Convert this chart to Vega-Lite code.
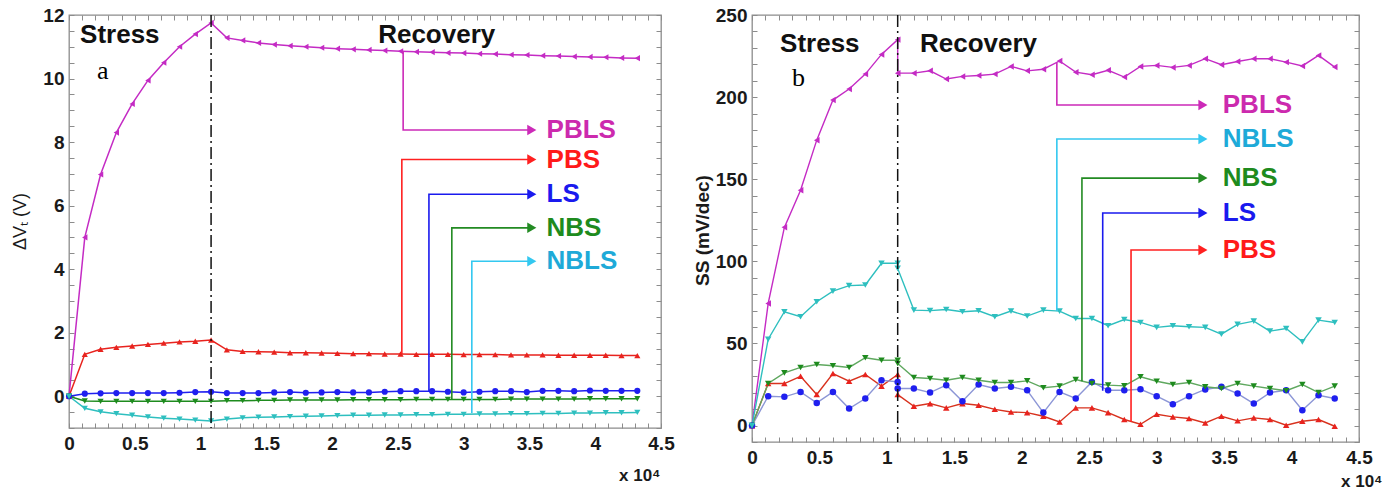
{
  "$schema": "https://vega.github.io/schema/vega-lite/v6.json",
  "autosize": {"type": "none"},
  "padding": {"left": 69, "top": 15, "right": 1319, "bottom": 477},
  "background": "white",
  "config": {
    "view": {"stroke": "#8c8c8c", "strokeWidth": 1.3},
    "axis": {"domain": false, "grid": false, "tickColor": "#8c8c8c", "tickSize": -5, "tickWidth": 1,
      "labelFont": "Liberation Sans", "labelFontSize": 19, "labelFontWeight": "bold", "labelColor": "#1a1a1a",
      "labelOverlap": false, "labelFlush": false, "titleFont": "Liberation Sans", "titleColor": "#1a1a1a"},
    "text": {"font": "Liberation Sans"}
  },
  "datasets": {
    "a": [
      {"i":0,"t":0,"PBLS":0,"PBS":0,"LS":0,"NBS":0,"NBLS":0},
      {"i":1,"t":1200,"PBLS":5.0,"PBS":1.32,"LS":0.08,"NBS":-0.15,"NBLS":-0.38},
      {"i":2,"t":2400,"PBLS":6.98,"PBS":1.48,"LS":0.09,"NBS":-0.16,"NBLS":-0.49},
      {"i":3,"t":3600,"PBLS":8.3,"PBS":1.54,"LS":0.1,"NBS":-0.16,"NBLS":-0.55},
      {"i":4,"t":4800,"PBLS":9.2,"PBS":1.58,"LS":0.1,"NBS":-0.16,"NBLS":-0.6},
      {"i":5,"t":6000,"PBLS":9.94,"PBS":1.63,"LS":0.1,"NBS":-0.16,"NBLS":-0.65},
      {"i":6,"t":7200,"PBLS":10.5,"PBS":1.67,"LS":0.1,"NBS":-0.16,"NBLS":-0.69},
      {"i":7,"t":8400,"PBLS":11.0,"PBS":1.71,"LS":0.11,"NBS":-0.16,"NBLS":-0.72},
      {"i":8,"t":9600,"PBLS":11.4,"PBS":1.73,"LS":0.13,"NBS":-0.16,"NBLS":-0.75},
      {"i":9,"t":10800,"PBLS":11.75,"PBS":1.77,"LS":0.14,"NBS":-0.16,"NBLS":-0.78},
      {"i":10,"t":12000,"PBLS":11.28,"PBS":1.46,"LS":0.1,"NBS":-0.14,"NBLS":-0.72},
      {"i":11,"t":13200,"PBLS":11.2,"PBS":1.41,"LS":0.1,"NBS":-0.14,"NBLS":-0.68},
      {"i":12,"t":14400,"PBLS":11.12,"PBS":1.4,"LS":0.1,"NBS":-0.13,"NBLS":-0.66},
      {"i":13,"t":15600,"PBLS":11.07,"PBS":1.39,"LS":0.12,"NBS":-0.13,"NBLS":-0.65},
      {"i":14,"t":16800,"PBLS":11.03,"PBS":1.37,"LS":0.13,"NBS":-0.12,"NBLS":-0.64},
      {"i":15,"t":18000,"PBLS":11.0,"PBS":1.37,"LS":0.11,"NBS":-0.12,"NBLS":-0.63},
      {"i":16,"t":19200,"PBLS":10.97,"PBS":1.36,"LS":0.12,"NBS":-0.12,"NBLS":-0.62},
      {"i":17,"t":20400,"PBLS":10.94,"PBS":1.35,"LS":0.13,"NBS":-0.12,"NBLS":-0.61},
      {"i":18,"t":21600,"PBLS":10.92,"PBS":1.34,"LS":0.12,"NBS":-0.11,"NBLS":-0.6},
      {"i":19,"t":22800,"PBLS":10.9,"PBS":1.34,"LS":0.12,"NBS":-0.11,"NBLS":-0.6},
      {"i":20,"t":24000,"PBLS":10.88,"PBS":1.33,"LS":0.14,"NBS":-0.11,"NBLS":-0.59},
      {"i":21,"t":25200,"PBLS":10.86,"PBS":1.33,"LS":0.16,"NBS":-0.11,"NBLS":-0.59},
      {"i":22,"t":26400,"PBLS":10.84,"PBS":1.32,"LS":0.16,"NBS":-0.1,"NBLS":-0.58},
      {"i":23,"t":27600,"PBLS":10.83,"PBS":1.32,"LS":0.16,"NBS":-0.1,"NBLS":-0.58},
      {"i":24,"t":28800,"PBLS":10.81,"PBS":1.32,"LS":0.14,"NBS":-0.1,"NBLS":-0.57},
      {"i":25,"t":30000,"PBLS":10.8,"PBS":1.31,"LS":0.12,"NBS":-0.1,"NBLS":-0.57},
      {"i":26,"t":31200,"PBLS":10.78,"PBS":1.31,"LS":0.14,"NBS":-0.1,"NBLS":-0.56},
      {"i":27,"t":32400,"PBLS":10.77,"PBS":1.31,"LS":0.16,"NBS":-0.1,"NBLS":-0.56},
      {"i":28,"t":33600,"PBLS":10.75,"PBS":1.3,"LS":0.16,"NBS":-0.09,"NBLS":-0.55},
      {"i":29,"t":34800,"PBLS":10.74,"PBS":1.3,"LS":0.13,"NBS":-0.09,"NBLS":-0.55},
      {"i":30,"t":36000,"PBLS":10.72,"PBS":1.3,"LS":0.17,"NBS":-0.09,"NBLS":-0.54},
      {"i":31,"t":37200,"PBLS":10.71,"PBS":1.29,"LS":0.17,"NBS":-0.09,"NBLS":-0.54},
      {"i":32,"t":38400,"PBLS":10.69,"PBS":1.29,"LS":0.16,"NBS":-0.09,"NBLS":-0.53},
      {"i":33,"t":39600,"PBLS":10.68,"PBS":1.29,"LS":0.18,"NBS":-0.08,"NBLS":-0.53},
      {"i":34,"t":40800,"PBLS":10.67,"PBS":1.29,"LS":0.17,"NBS":-0.08,"NBLS":-0.52},
      {"i":35,"t":42000,"PBLS":10.65,"PBS":1.28,"LS":0.17,"NBS":-0.08,"NBLS":-0.52},
      {"i":36,"t":43200,"PBLS":10.64,"PBS":1.28,"LS":0.17,"NBS":-0.08,"NBLS":-0.51}
    ],
    "b": [
      {"i":0,"t":0,"PBLS":0,"PBS":0,"LS":0,"NBS":0,"NBLS":0},
      {"i":1,"t":1200,"PBLS":74.4,"PBS":25.6,"LS":17.9,"NBS":25.6,"NBLS":52.6},
      {"i":2,"t":2400,"PBLS":120.7,"PBS":25.6,"LS":17.5,"NBS":32.1,"NBLS":69.3},
      {"i":3,"t":3600,"PBLS":143.3,"PBS":30,"LS":20.5,"NBS":35.4,"NBLS":66.3},
      {"i":4,"t":4800,"PBLS":173.8,"PBS":18.9,"LS":13.8,"NBS":37.2,"NBLS":75.4},
      {"i":5,"t":6000,"PBLS":198.2,"PBS":31.7,"LS":20.5,"NBS":36.4,"NBLS":81.9},
      {"i":6,"t":7200,"PBLS":204.9,"PBS":27,"LS":10.4,"NBS":35.4,"NBLS":85.2},
      {"i":7,"t":8400,"PBLS":214,"PBS":31.1,"LS":16.5,"NBS":41.3,"NBLS":85.6},
      {"i":8,"t":9600,"PBLS":226,"PBS":24,"LS":27.6,"NBS":39.8,"NBLS":98.8},
      {"i":9,"t":10800,"PBLS":235,"PBS":31.1,"LS":26.6,"NBS":39.8,"NBLS":98.8},
      {"i":10,"t":10800,"PBLS":214.6,"PBS":18.9,"LS":22.6,"NBS":37.8,"NBLS":95.7},
      {"i":11,"t":12000,"PBLS":214.6,"PBS":11.8,"LS":22.6,"NBS":29.3,"NBLS":70.3},
      {"i":12,"t":13200,"PBLS":216,"PBS":13.4,"LS":20.1,"NBS":28.7,"NBLS":70},
      {"i":13,"t":14400,"PBLS":211,"PBS":10.8,"LS":24.6,"NBS":27.6,"NBLS":70.7},
      {"i":14,"t":15600,"PBLS":212.6,"PBS":13.4,"LS":14.8,"NBS":29.3,"NBLS":69.3},
      {"i":15,"t":16800,"PBLS":213.2,"PBS":12.4,"LS":25,"NBS":27.6,"NBLS":69.9},
      {"i":16,"t":18000,"PBLS":214,"PBS":9.9,"LS":22.6,"NBS":26.2,"NBLS":66.3},
      {"i":17,"t":19200,"PBLS":218.7,"PBS":8.3,"LS":23.6,"NBS":26.2,"NBLS":69.7},
      {"i":18,"t":20400,"PBLS":216,"PBS":7.9,"LS":21.5,"NBS":27.2,"NBLS":66.7},
      {"i":19,"t":21600,"PBLS":217,"PBS":5.7,"LS":7.9,"NBS":23,"NBLS":70.3},
      {"i":20,"t":22800,"PBLS":222,"PBS":2.2,"LS":20.5,"NBS":24,"NBLS":69.7},
      {"i":21,"t":24000,"PBLS":215.2,"PBS":10.8,"LS":16.5,"NBS":28,"NBLS":65.2},
      {"i":22,"t":25200,"PBLS":213.6,"PBS":10.8,"LS":26.6,"NBS":25.6,"NBLS":65.2},
      {"i":23,"t":26400,"PBLS":216.3,"PBS":7.9,"LS":21.5,"NBS":24.6,"NBLS":60.8},
      {"i":24,"t":27600,"PBLS":212.2,"PBS":3.7,"LS":21.5,"NBS":24.2,"NBLS":64.6},
      {"i":25,"t":28800,"PBLS":218.7,"PBS":0.8,"LS":22.1,"NBS":29.7,"NBLS":62.8},
      {"i":26,"t":30000,"PBLS":219.3,"PBS":6.9,"LS":17.9,"NBS":27,"NBLS":59.8},
      {"i":27,"t":31200,"PBLS":218.1,"PBS":5.3,"LS":13,"NBS":25,"NBLS":60.8},
      {"i":28,"t":32400,"PBLS":219.3,"PBS":4.3,"LS":17.9,"NBS":26.2,"NBLS":60.2},
      {"i":29,"t":33600,"PBLS":223.4,"PBS":1.6,"LS":22,"NBS":23.6,"NBLS":59.8},
      {"i":30,"t":34800,"PBLS":219.7,"PBS":5.7,"LS":23.6,"NBS":22.6,"NBLS":55.7},
      {"i":31,"t":36000,"PBLS":221.7,"PBS":2.9,"LS":19.5,"NBS":25.6,"NBLS":61.6},
      {"i":32,"t":37200,"PBLS":223.4,"PBS":4.7,"LS":13.4,"NBS":24,"NBLS":63.6},
      {"i":33,"t":38400,"PBLS":223.4,"PBS":3.7,"LS":20.1,"NBS":22.6,"NBLS":57.5},
      {"i":34,"t":39600,"PBLS":221.3,"PBS":0.2,"LS":21.5,"NBS":21.2,"NBLS":59.1},
      {"i":35,"t":40800,"PBLS":219,"PBS":2.6,"LS":9.3,"NBS":25,"NBLS":51},
      {"i":36,"t":42000,"PBLS":225.4,"PBS":3.7,"LS":18.5,"NBS":20.1,"NBLS":64.2},
      {"i":37,"t":43200,"PBLS":218.3,"PBS":-0.4,"LS":16.5,"NBS":24,"NBLS":62.8}
    ],
    "ca": [
      {"s":"PBLS","k":0,"t":25400,"v":10.85},{"s":"PBLS","k":1,"t":25400,"v":8.38},{"s":"PBLS","k":2,"t":35000,"v":8.38},
      {"s":"PBS","k":0,"t":25300,"v":1.33},{"s":"PBS","k":1,"t":25300,"v":7.45},{"s":"PBS","k":2,"t":35000,"v":7.45},
      {"s":"LS","k":0,"t":27360,"v":0.15},{"s":"LS","k":1,"t":27360,"v":6.36},{"s":"LS","k":2,"t":35000,"v":6.36},
      {"s":"NBS","k":0,"t":29100,"v":-0.1},{"s":"NBS","k":1,"t":29100,"v":5.3},{"s":"NBS","k":2,"t":35000,"v":5.3},
      {"s":"NBLS","k":0,"t":30620,"v":-0.53},{"s":"NBLS","k":1,"t":30620,"v":4.25},{"s":"NBLS","k":2,"t":35000,"v":4.25}
    ],
    "la": [
      {"s":"PBLS","t":35180,"v":8.38,"lt":36300},
      {"s":"PBS","t":35180,"v":7.45,"lt":36300},
      {"s":"LS","t":35180,"v":6.36,"lt":36300},
      {"s":"NBS","t":35180,"v":5.3,"lt":36300},
      {"s":"NBLS","t":35180,"v":4.25,"lt":36300}
    ],
    "cb": [
      {"s":"PBLS","k":0,"t":22600,"v":221},{"s":"PBLS","k":1,"t":22600,"v":195.2},{"s":"PBLS","k":2,"t":33200,"v":195.2},
      {"s":"NBLS","k":0,"t":22600,"v":69.7},{"s":"NBLS","k":1,"t":22600,"v":174.5},{"s":"NBLS","k":2,"t":33200,"v":174.5},
      {"s":"NBS","k":0,"t":24460,"v":27},{"s":"NBS","k":1,"t":24460,"v":150.7},{"s":"NBS","k":2,"t":33200,"v":150.7},
      {"s":"LS","k":0,"t":26000,"v":21.2},{"s":"LS","k":1,"t":26000,"v":129.4},{"s":"LS","k":2,"t":33200,"v":129.4},
      {"s":"PBS","k":0,"t":28100,"v":2.2},{"s":"PBS","k":1,"t":28100,"v":106.9},{"s":"PBS","k":2,"t":33200,"v":106.9}
    ],
    "lb": [
      {"s":"PBLS","t":33430,"v":195.2,"lt":34900},
      {"s":"NBLS","t":33430,"v":174.5,"lt":34900},
      {"s":"NBS","t":33430,"v":150.7,"lt":34900},
      {"s":"LS","t":33430,"v":129.4,"lt":34900},
      {"s":"PBS","t":33430,"v":106.9,"lt":34900}
    ]
  },
  "bounds": "flush",
  "spacing": 91,
  "hconcat": [
    {
      "width": 592, "height": 413,
      "layer": [
        {
          "data": {"name": "a"},
          "transform": [{"fold": ["PBLS","PBS","LS","NBS","NBLS"], "as": ["s","v"]}],
          "mark": {"type": "line", "strokeWidth": 1.5},
          "encoding": {
            "x": {"field": "t", "type": "quantitative", "scale": {"domain": [0,45000], "nice": false},
              "axis": {"orient": "bottom", "values": [0,1000,2000,3000,4000,5000,6000,7000,8000,9000,10000,11000,12000,13000,14000,15000,16000,17000,18000,19000,20000,21000,22000,23000,24000,25000,26000,27000,28000,29000,30000,31000,32000,33000,34000,35000,36000,37000,38000,39000,40000,41000,42000,43000,44000,45000],
                "labelExpr": "datum.value % 5000 === 0 ? format(datum.value/10000, '~g') : ''",
                "labelPadding": 11, "title": "x 10⁴", "titleFontSize": 17, "titleFontWeight": "bold",
                "titleX": 591, "titleY": 47, "titleAlign": "right", "titleBaseline": "middle", "titleAngle": 0}},
            "y": {"field": "v", "type": "quantitative", "scale": {"domain": [-1,12], "nice": false},
              "axis": {"orient": "left", "values": [-1,-0.5,0,0.5,1,1.5,2,2.5,3,3.5,4,4.5,5,5.5,6,6.5,7,7.5,8,8.5,9,9.5,10,10.5,11,11.5,12],
                "labelExpr": "datum.value >= 0 && datum.value % 2 === 0 ? format(datum.value, 'd') : ''",
                "labelPadding": 10, "title": "ΔVₜ (V)", "titleFontSize": 18, "titleFontWeight": "normal",
                "titleX": -49, "titleY": 206, "titleAngle": -90, "titleAlign": "center", "titleBaseline": "middle"}},
            "color": {"field": "s", "type": "nominal", "legend": null,
              "scale": {"domain": ["PBLS","PBS","LS","NBS","NBLS"], "range": ["#C42BC4","#E8231E","#1F1FEF","#1E8B1E","#2EBFBF"]}},
            "order": {"field": "i", "type": "quantitative"}
          }
        },
        {
          "data": {"name": "a"},
          "transform": [{"fold": ["PBLS","PBS","LS","NBS","NBLS"], "as": ["s","v"]}],
          "mark": {"type": "point", "filled": true, "size": 38, "opacity": 1},
          "encoding": {
            "x": {"field": "t", "type": "quantitative", "axis": null},
            "y": {"field": "v", "type": "quantitative", "axis": null},
            "color": {"field": "s", "type": "nominal", "legend": null,
              "scale": {"domain": ["PBLS","PBS","LS","NBS","NBLS"], "range": ["#C42BC4","#E8231E","#1F1FEF","#1E8B1E","#2EBFBF"]}},
            "shape": {"field": "s", "type": "nominal", "legend": null,
              "scale": {"domain": ["PBLS","PBS","LS","NBS","NBLS"], "range": ["triangle-left","triangle-up","circle","triangle-down","triangle-down"]}}
          }
        },
        {
          "data": {"values": [{"t": 10800}]},
          "mark": {"type": "rule", "color": "#111", "strokeWidth": 1.5, "strokeDash": [12,4,2,4]},
          "encoding": {"x": {"field": "t", "type": "quantitative", "axis": null}}
        },
        {
          "data": {"name": "ca"},
          "mark": {"type": "line", "strokeWidth": 1.6},
          "encoding": {
            "x": {"field": "t", "type": "quantitative",
              "axis": {"orient": "top", "values": [0,1000,2000,3000,4000,5000,6000,7000,8000,9000,10000,11000,12000,13000,14000,15000,16000,17000,18000,19000,20000,21000,22000,23000,24000,25000,26000,27000,28000,29000,30000,31000,32000,33000,34000,35000,36000,37000,38000,39000,40000,41000,42000,43000,44000,45000], "labels": false, "title": null}},
            "y": {"field": "v", "type": "quantitative",
              "axis": {"orient": "right", "values": [-1,-0.5,0,0.5,1,1.5,2,2.5,3,3.5,4,4.5,5,5.5,6,6.5,7,7.5,8,8.5,9,9.5,10,10.5,11,11.5,12], "labels": false, "title": null}},
            "color": {"field": "s", "type": "nominal", "legend": null,
              "scale": {"domain": ["PBLS","PBS","LS","NBS","NBLS"], "range": ["#CC2AB8","#FF2020","#1A1AEE","#238B23","#33C8F0"]}},
            "order": {"field": "k", "type": "quantitative"}
          }
        },
        {
          "data": {"name": "la"},
          "mark": {"type": "point", "shape": "triangle-right", "filled": true, "size": 110, "opacity": 1},
          "encoding": {
            "x": {"field": "t", "type": "quantitative", "axis": null},
            "y": {"field": "v", "type": "quantitative", "axis": null},
            "color": {"field": "s", "type": "nominal", "legend": null,
              "scale": {"domain": ["PBLS","PBS","LS","NBS","NBLS"], "range": ["#CC2AB8","#FF2020","#1A1AEE","#238B23","#33C8F0"]}}
          }
        },
        {
          "data": {"name": "la"},
          "mark": {"type": "text", "align": "left", "baseline": "middle", "fontSize": 26, "fontWeight": "bold", "font": "Liberation Sans"},
          "encoding": {
            "x": {"field": "lt", "type": "quantitative", "axis": null},
            "y": {"field": "v", "type": "quantitative", "axis": null},
            "text": {"field": "s"},
            "color": {"field": "s", "type": "nominal", "legend": null,
              "scale": {"domain": ["PBLS","PBS","LS","NBS","NBLS"], "range": ["#CC2AAE","#FF1A1A","#1A1AEE","#1E8B1E","#1EAAD8"]}}
          }
        },
        {
          "data": {"values": [{"txt": "Stress", "t": 840, "v": 11.12}, {"txt": "Recovery", "t": 23500, "v": 11.12}]},
          "mark": {"type": "text", "align": "left", "baseline": "alphabetic", "fontSize": 26, "fontWeight": "bold", "font": "Liberation Sans", "color": "#111"},
          "encoding": {
            "x": {"field": "t", "type": "quantitative", "axis": null},
            "y": {"field": "v", "type": "quantitative", "axis": null},
            "text": {"field": "txt"}
          }
        },
        {
          "data": {"values": [{"txt": "a", "t": 2130, "v": 10.0}]},
          "mark": {"type": "text", "align": "left", "baseline": "alphabetic", "fontSize": 26, "font": "Liberation Serif", "color": "#000"},
          "encoding": {
            "x": {"field": "t", "type": "quantitative", "axis": null},
            "y": {"field": "v", "type": "quantitative", "axis": null},
            "text": {"field": "txt"}
          }
        }
      ],
      "resolve": {"scale": {"color": "independent"}, "axis": {"x": "independent", "y": "independent"}}
    },
    {
      "width": 607, "height": 427,
      "layer": [
        {
          "data": {"name": "b"},
          "transform": [{"fold": ["PBLS","PBS","LS","NBS","NBLS"], "as": ["s","v"]}],
          "mark": {"type": "line", "strokeWidth": 1.4},
          "encoding": {
            "x": {"field": "t", "type": "quantitative", "scale": {"domain": [0,45000], "nice": false},
              "axis": {"orient": "bottom", "values": [0,1000,2000,3000,4000,5000,6000,7000,8000,9000,10000,11000,12000,13000,14000,15000,16000,17000,18000,19000,20000,21000,22000,23000,24000,25000,26000,27000,28000,29000,30000,31000,32000,33000,34000,35000,36000,37000,38000,39000,40000,41000,42000,43000,44000,45000],
                "labelExpr": "datum.value % 5000 === 0 ? format(datum.value/10000, '~g') : ''",
                "labelPadding": 11, "title": "x 10⁴", "titleFontSize": 17, "titleFontWeight": "bold",
                "titleX": 630, "titleY": 39, "titleAlign": "right", "titleBaseline": "middle", "titleAngle": 0}},
            "y": {"field": "v", "type": "quantitative", "scale": {"domain": [-10,250], "nice": false},
              "axis": {"orient": "left", "values": [-10,0,10,20,30,40,50,60,70,80,90,100,110,120,130,140,150,160,170,180,190,200,210,220,230,240,250],
                "labelExpr": "datum.value >= 0 && datum.value % 50 === 0 ? format(datum.value, 'd') : ''",
                "labelPadding": 10, "title": "SS (mV/dec)", "titleFontSize": 19, "titleFontWeight": "bold",
                "titleX": -50, "titleY": 215, "titleAngle": -90, "titleAlign": "center", "titleBaseline": "middle"}},
            "color": {"field": "s", "type": "nominal", "legend": null,
              "scale": {"domain": ["PBLS","PBS","LS","NBS","NBLS"], "range": ["#C42BC4","#D8321E","#8C96D6","#5FA85F","#2EBFBF"]}},
            "order": {"field": "i", "type": "quantitative"}
          }
        },
        {
          "data": {"name": "b"},
          "transform": [{"fold": ["PBLS","PBS","LS","NBS","NBLS"], "as": ["s","v"]}],
          "mark": {"type": "point", "filled": true, "size": 42, "opacity": 1},
          "encoding": {
            "x": {"field": "t", "type": "quantitative", "axis": null},
            "y": {"field": "v", "type": "quantitative", "axis": null},
            "color": {"field": "s", "type": "nominal", "legend": null,
              "scale": {"domain": ["PBLS","PBS","LS","NBS","NBLS"], "range": ["#C42BC4","#E8231E","#1F1FEF","#1E8B1E","#2EBFBF"]}},
            "shape": {"field": "s", "type": "nominal", "legend": null,
              "scale": {"domain": ["PBLS","PBS","LS","NBS","NBLS"], "range": ["triangle-left","triangle-up","circle","triangle-down","triangle-down"]}}
          }
        },
        {
          "data": {"values": [{"t": 10800}]},
          "mark": {"type": "rule", "color": "#111", "strokeWidth": 1.5, "strokeDash": [12,4,2,4]},
          "encoding": {"x": {"field": "t", "type": "quantitative", "axis": null}}
        },
        {
          "data": {"name": "cb"},
          "mark": {"type": "line", "strokeWidth": 1.6},
          "encoding": {
            "x": {"field": "t", "type": "quantitative",
              "axis": {"orient": "top", "values": [0,1000,2000,3000,4000,5000,6000,7000,8000,9000,10000,11000,12000,13000,14000,15000,16000,17000,18000,19000,20000,21000,22000,23000,24000,25000,26000,27000,28000,29000,30000,31000,32000,33000,34000,35000,36000,37000,38000,39000,40000,41000,42000,43000,44000,45000], "labels": false, "title": null}},
            "y": {"field": "v", "type": "quantitative",
              "axis": {"orient": "right", "values": [-10,0,10,20,30,40,50,60,70,80,90,100,110,120,130,140,150,160,170,180,190,200,210,220,230,240,250], "labels": false, "title": null}},
            "color": {"field": "s", "type": "nominal", "legend": null,
              "scale": {"domain": ["PBLS","PBS","LS","NBS","NBLS"], "range": ["#CC2AB8","#FF2020","#1A1AEE","#238B23","#33C8F0"]}},
            "order": {"field": "k", "type": "quantitative"}
          }
        },
        {
          "data": {"name": "lb"},
          "mark": {"type": "point", "shape": "triangle-right", "filled": true, "size": 110, "opacity": 1},
          "encoding": {
            "x": {"field": "t", "type": "quantitative", "axis": null},
            "y": {"field": "v", "type": "quantitative", "axis": null},
            "color": {"field": "s", "type": "nominal", "legend": null,
              "scale": {"domain": ["PBLS","PBS","LS","NBS","NBLS"], "range": ["#CC2AB8","#FF2020","#1A1AEE","#238B23","#33C8F0"]}}
          }
        },
        {
          "data": {"name": "lb"},
          "mark": {"type": "text", "align": "left", "baseline": "middle", "fontSize": 26, "fontWeight": "bold", "font": "Liberation Sans"},
          "encoding": {
            "x": {"field": "lt", "type": "quantitative", "axis": null},
            "y": {"field": "v", "type": "quantitative", "axis": null},
            "text": {"field": "s"},
            "color": {"field": "s", "type": "nominal", "legend": null,
              "scale": {"domain": ["PBLS","PBS","LS","NBS","NBLS"], "range": ["#CC2AAE","#FF1A1A","#1A1AEE","#1E8B1E","#1EAAD8"]}}
          }
        },
        {
          "data": {"values": [{"txt": "Stress", "t": 2080, "v": 227.7}, {"txt": "Recovery", "t": 12450, "v": 227.7}]},
          "mark": {"type": "text", "align": "left", "baseline": "alphabetic", "fontSize": 26, "fontWeight": "bold", "font": "Liberation Sans", "color": "#111"},
          "encoding": {
            "x": {"field": "t", "type": "quantitative", "axis": null},
            "y": {"field": "v", "type": "quantitative", "axis": null},
            "text": {"field": "txt"}
          }
        },
        {
          "data": {"values": [{"txt": "b", "t": 2965, "v": 206.8}]},
          "mark": {"type": "text", "align": "left", "baseline": "alphabetic", "fontSize": 26, "font": "Liberation Serif", "color": "#000"},
          "encoding": {
            "x": {"field": "t", "type": "quantitative", "axis": null},
            "y": {"field": "v", "type": "quantitative", "axis": null},
            "text": {"field": "txt"}
          }
        }
      ],
      "resolve": {"scale": {"color": "independent"}, "axis": {"x": "independent", "y": "independent"}}
    }
  ]
}
